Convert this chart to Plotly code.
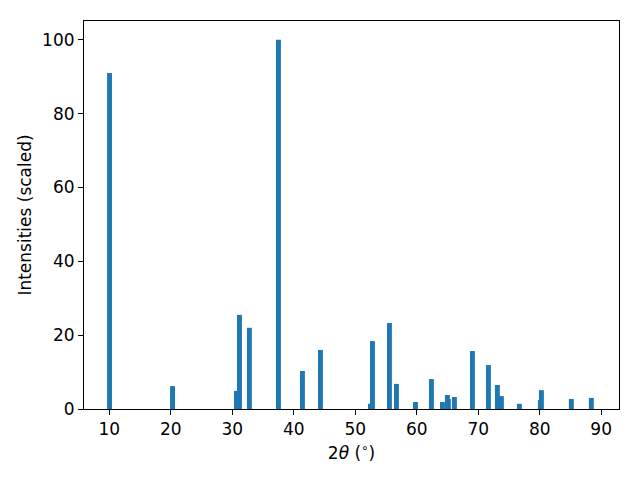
import plotly.graph_objects as go

two_theta = [10.03, 20.28, 30.68, 31.17, 32.78, 37.51, 41.41, 44.34, 52.47, 52.80,
             55.56, 56.70, 59.79, 62.39, 64.18, 64.99, 65.15, 66.13, 69.06, 71.66,
             73.12, 73.77, 76.70, 80.11, 80.28, 85.15, 88.40]
intensity = [91.0, 6.2, 4.9, 25.5, 22.0, 100.0, 10.3, 16.0, 1.4, 18.4,
             23.3, 6.8, 1.9, 8.1, 1.9, 3.8, 2.7, 3.25, 15.7, 11.9,
             6.5, 3.5, 1.4, 2.4, 5.1, 2.7, 3.0]
x_ticks = [10, 20, 30, 40, 50, 60, 70, 80, 90]
y_ticks = [0, 20, 40, 60, 80, 100]

font = "DejaVu Sans, sans-serif"

fig = go.Figure(go.Bar(
    x=two_theta, y=intensity, width=[0.8] * len(two_theta),
    marker=dict(color="#1f77b4", line=dict(width=0)),
))

fig.update_layout(
    width=640, height=480,
    margin=dict(l=76, r=29, t=13, b=79, autoexpand=False),
    plot_bgcolor="white", paper_bgcolor="white",
    showlegend=False, barmode="overlay",
    font=dict(family=font, size=17, color="black"),
)
fig.update_xaxes(
    range=[5.88, 92.9], tickvals=x_ticks, ticks="outside", ticklen=5, tickwidth=1.1,
    tickcolor="black", showline=True, linecolor="black", linewidth=1.1, mirror=True,
    showgrid=False, zeroline=False, automargin=False,
    title=dict(text="2<i>θ</i> (<sup>∘</sup>)", font=dict(size=17), standoff=8),
)
fig.update_yaxes(
    range=[0, 105.1], tickvals=y_ticks, ticks="outside", ticklen=5, tickwidth=1.1,
    tickcolor="black", showline=True, linecolor="black", linewidth=1.1, mirror=True,
    showgrid=False, zeroline=False, automargin=False,
    title=dict(text="Intensities (scaled)", font=dict(size=17), standoff=6),
)

fig.write_html("out.html")
